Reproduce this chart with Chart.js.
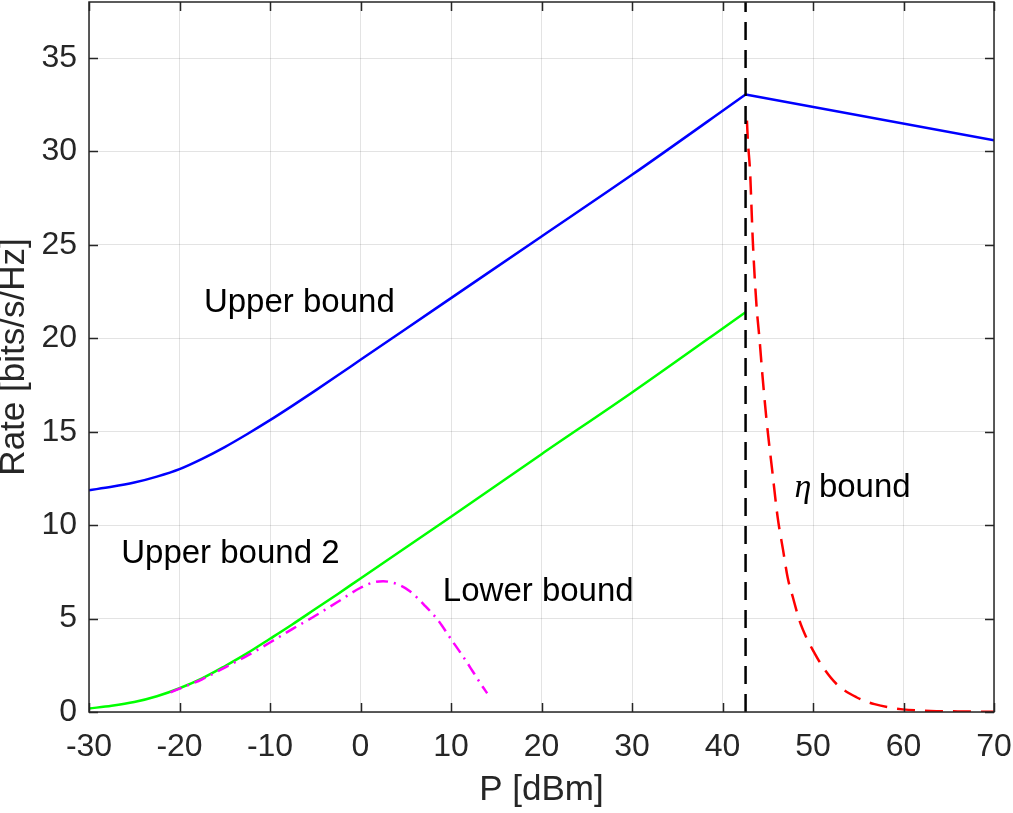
<!DOCTYPE html>
<html>
  <head>
    <meta charset="utf-8">
    <title>Rate vs P</title>
    <script src="https://cdn.jsdelivr.net/npm/chart.js"></script>
    <style>
      body { margin: 0; background: #fff; }
      canvas { display: block; }
    </style>
  </head>
  <body>
    <canvas id="grafica" width="1013" height="813"></canvas>
    <script>
      // valores
      var upperX = [-30, -27.5, -25, -22.5, -20, -17.5, -15, -12.5, -10, -7.5, -5, -2.5, 0, 5, 10, 20, 30, 42.55, 70]
      var upperY = [11.87, 12.05, 12.28, 12.6, 13.0, 13.55, 14.18, 14.88, 15.62, 16.4, 17.2, 18.02, 18.85, 20.5, 22.15, 25.45, 28.75, 33.05, 30.6]

      var upper2X = [-30, -27.5, -25, -22.5, -20, -17.5, -15, -12.5, -10, -7.5, -5, -2.5, 0, 10, 20, 30, 42.55]
      var upper2Y = [0.19, 0.33, 0.53, 0.84, 1.27, 1.8, 2.45, 3.15, 3.92, 4.7, 5.51, 6.32, 7.15, 10.45, 13.8, 17.1, 21.4]

      var lowerX = [-21, -20, -17.5, -15, -12.5, -10, -7.5, -5, -2.5, 0, 1.5, 2.5, 4, 5.5, 7, 8.5, 10, 11.5, 12.5, 13.5, 14]
      var lowerY = [1.05, 1.25, 1.75, 2.38, 3.02, 3.72, 4.45, 5.15, 5.9, 6.65, 6.95, 7.0, 6.85, 6.45, 5.75, 4.95, 3.9, 2.85, 2.1, 1.35, 1.0]

      var etaX = [42.7, 42.8, 43.05, 43.2, 43.35, 43.75, 44.1, 44.4, 44.85, 45.5, 46.1, 46.7, 47.2, 47.8, 48.5, 49.25, 50, 51.1, 52.6, 54.8, 56.8, 59.9, 63, 66, 70]
      var etaY = [31.65, 30.6, 28.9, 27.05, 25.2, 21.8, 19.9, 18.1, 15.7, 12.9, 10.4, 8.65, 7.2, 6.1, 4.9, 4.0, 3.3, 2.4, 1.5, 0.79, 0.42, 0.14, 0.06, 0.03, 0.01]

      var limiteX = [42.55, 42.55]
      var limiteY = [0, 38]

      var etiquetas = [
        { text: 'Upper bound', x: -17.3, y: 21.92 },
        { text: 'Upper bound 2', x: -26.44, y: 8.46 },
        { text: 'Lower bound', x: 9.1, y: 6.42 },
        { text: 'bound', x: 50.65, y: 12.0, eta: 47.95 }
      ]

      function puntos(xs, ys) {
        return xs.map(function (x, i) { return { x: x, y: ys[i] } })
      }

      // la curva azul se parte en el pico: tramo curvo y tramo recto
      var pico = upperX.indexOf(42.55)
      var upperCurva = puntos(upperX, upperY).slice(0, pico + 1)
      var upperRecta = puntos(upperX, upperY).slice(pico)

      var gris = '#262626'
      var fuente = 'Liberation Sans, Arial, Helvetica, sans-serif'

      // etiquetas de texto dentro del grafico
      var textos = {
        id: 'textos',
        afterDatasetsDraw: function (chart) {
          var ctx = chart.ctx
          var sx = chart.scales.x
          var sy = chart.scales.y
          ctx.save()
          ctx.fillStyle = '#000'
          ctx.textBaseline = 'middle'
          ctx.textAlign = 'left'
          etiquetas.forEach(function (e) {
            var py = sy.getPixelForValue(e.y)
            if (e.eta !== undefined) {
              ctx.font = 'italic 34px Liberation Serif, DejaVu Serif, serif'
              ctx.fillText('\u03b7', sx.getPixelForValue(e.eta), py)
            }
            ctx.font = '33px ' + fuente
            ctx.fillText(e.text, sx.getPixelForValue(e.x), py)
          })
          ctx.restore()
        }
      }

      // caja y marcas hacia dentro, estilo matlab
      var caja = {
        id: 'caja',
        afterDraw: function (chart) {
          var ctx = chart.ctx
          var a = chart.chartArea
          var sx = chart.scales.x
          var sy = chart.scales.y
          var largo = 9
          ctx.save()
          ctx.strokeStyle = gris
          ctx.lineWidth = 1.5
          ctx.beginPath()
          sx.ticks.forEach(function (t) {
            var px = Math.round(sx.getPixelForValue(t.value)) + 0.5
            ctx.moveTo(px, a.bottom); ctx.lineTo(px, a.bottom - largo)
            ctx.moveTo(px, a.top); ctx.lineTo(px, a.top + largo)
          })
          sy.ticks.forEach(function (t) {
            var py = Math.round(sy.getPixelForValue(t.value)) + 0.5
            ctx.moveTo(a.left, py); ctx.lineTo(a.left + largo, py)
            ctx.moveTo(a.right, py); ctx.lineTo(a.right - largo, py)
          })
          ctx.stroke()
          ctx.strokeRect(a.left, a.top, a.right - a.left, a.bottom - a.top)
          ctx.restore()
        }
      }

      function sinRelleno(s) {
        s.paddingTop = 0
        s.paddingBottom = 0
        s.paddingLeft = 0
        s.paddingRight = 0
      }

      var ctx = document.getElementById('grafica').getContext('2d')
      var grafica = new Chart(ctx, {
        type: 'line',
        data: {
          datasets: [
            {
              data: puntos(limiteX, limiteY),
              borderColor: '#000',
              borderWidth: 2.5,
              borderDash: [18, 10]
            },
            {
              data: puntos(etaX, etaY),
              borderColor: '#ff0000',
              borderWidth: 2.5,
              borderDash: [18, 10],
              cubicInterpolationMode: 'monotone'
            },
            {
              data: puntos(lowerX, lowerY),
              borderColor: '#ff00ff',
              borderWidth: 2.5,
              borderDash: [12, 6, 2, 6],
              cubicInterpolationMode: 'monotone'
            },
            {
              data: puntos(upper2X, upper2Y),
              borderColor: '#00ff00',
              borderWidth: 2.5,
              cubicInterpolationMode: 'monotone'
            },
            {
              data: upperCurva,
              borderColor: '#0000ff',
              borderWidth: 2.5,
              cubicInterpolationMode: 'monotone'
            },
            {
              data: upperRecta,
              borderColor: '#0000ff',
              borderWidth: 2.5
            }
          ]
        },
        options: {
          responsive: false,
          animation: false,
          devicePixelRatio: 1,
          elements: { point: { radius: 0 }, line: { tension: 0 } },
          layout: { autoPadding: false, padding: { top: 2, right: 19, left: 0, bottom: 0 } },
          plugins: { legend: { display: false }, tooltip: { enabled: false } },
          scales: {
            x: {
              type: 'linear',
              min: -30,
              max: 70,
              afterFit: function (s) { s.height = 101; sinRelleno(s) },
              ticks: { stepSize: 10, color: gris, padding: 16, font: { family: fuente, size: 32 } },
              grid: { color: 'rgba(38,38,38,0.13)', drawTicks: false },
              border: { display: false },
              title: {
                display: true,
                text: 'P [dBm]',
                color: gris,
                padding: { top: 0, bottom: 2 },
                font: { family: fuente, size: 35, lineHeight: 1.2 }
              }
            },
            y: {
              min: 0,
              max: 38,
              afterFit: function (s) { s.width = 89; sinRelleno(s) },
              ticks: { stepSize: 5, includeBounds: false, color: gris, padding: 12, font: { family: fuente, size: 32 } },
              grid: { color: 'rgba(38,38,38,0.13)', drawTicks: false },
              border: { display: false },
              title: {
                display: true,
                text: 'Rate [bits/s/Hz]',
                color: gris,
                padding: { top: 0, bottom: 0 },
                font: { family: fuente, size: 35, lineHeight: 0.8 }
              }
            }
          }
        },
        plugins: [textos, caja]
      })
    </script>
  </body>
</html>
